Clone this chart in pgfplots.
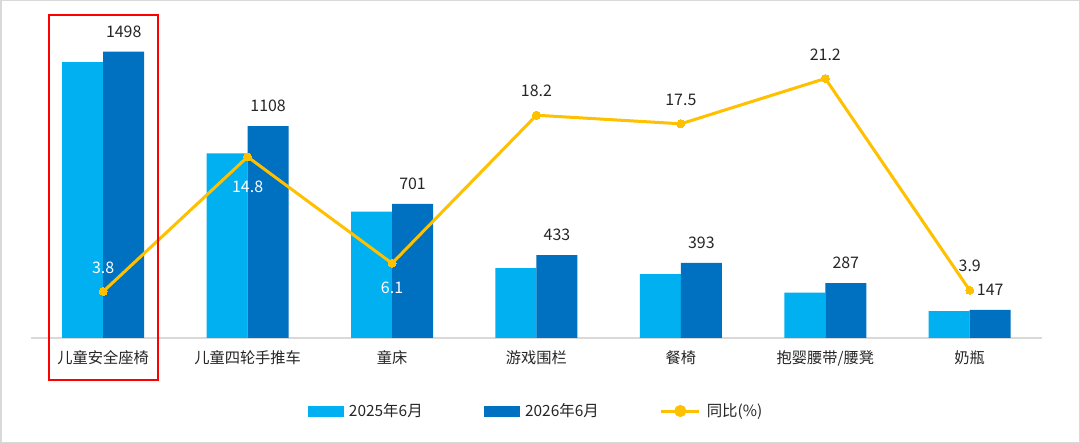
\documentclass[border=0pt]{standalone}
\usepackage{pgfplots}
\pgfplotsset{compat=1.18}
\usepackage{fontspec}
\setmainfont{Noto Sans CJK SC}
\definecolor{cA}{HTML}{00B0F0}
\definecolor{cB}{HTML}{0070C0}
\definecolor{cL}{HTML}{FFC000}
\definecolor{axg}{HTML}{D9D9D9}
\definecolor{txt}{HTML}{262626}
\tikzset{lbl/.style={font=\fontsize{16}{18}\selectfont, anchor=center}}
\begin{document}
\begin{tikzpicture}
\useasboundingbox (0,0) rectangle (1080bp,443bp);
\fill[white] (0,0) rectangle (1080bp,443bp);
\draw[axg, line width=1.5bp] (0.75bp,0.75bp) rectangle (1079.25bp,442.25bp);
\pgfplotsset{
  base/.style={scale only axis, width=1011bp, height=306bp,
    at={(31bp,105bp)}, anchor=south west, xmin=-0.5, xmax=6.5,
    /pgf/number format/assume math mode=true,
    /pgf/number format/1000 sep={},
    font=\fontsize{15}{18}\selectfont},
}
\begin{axis}[base, ymin=0, ymax=1600, ybar=0pt, bar width=41bp,
  axis x line=bottom, axis y line=none,
  x axis line style={axg, line width=1.5bp, -},
  xtick=data, major tick length=0pt,
  xticklabels={儿童安全座椅,儿童四轮手推车,童床,游戏围栏,餐椅,抱婴腰带/腰凳,奶瓶},
  xticklabel style={text=txt, font=\fontsize{15.3}{18}\selectfont, anchor=center, yshift=-20bp},
  ]
\addplot[fill=cA, draw=none] coordinates {(0,1443) (1,965) (2,661) (3,366) (4,334) (5,237) (6,141)};
\addplot[fill=cB, draw=none, nodes near coords,
  nodes near coords style={text=txt, lbl, yshift=20bp}]
  coordinates {(0,1498) (1,1108) (2,701) (3,433) (4,393) (5,287) (6,147)};
\end{axis}
\begin{axis}[base, ymin=0, ymax=25, hide axis,
  legend columns=3,
  legend style={at={(0.4995,-0.2386)}, anchor=center, draw=none, fill=none,
    font=\fontsize{15.5}{18}\selectfont, text=txt,
    /tikz/every odd column/.append style={column sep=4bp},
    /tikz/every even column/.append style={column sep=59bp}},
  ]
\addlegendimage{legend image code/.code={\fill[cA] (0bp,-5bp) rectangle (35bp,5bp);}}
\addlegendentry{2025年6月}
\addlegendimage{legend image code/.code={\fill[cB] (0bp,-5bp) rectangle (35bp,5bp);}}
\addlegendentry{2026年6月}
\addplot[cL, line width=3bp, mark=*, mark size=4bp, mark options={fill=cL, draw=cL, line width=0pt},
  legend image code/.code={\draw[cL, line width=3bp] (0bp,0bp) -- (38bp,0bp); \fill[cL] (19bp,0bp) circle (4.5bp);}]
  coordinates {(0,3.8) (1,14.8) (2,6.1) (3,18.2) (4,17.5) (5,21.2) (6,3.9)};
\addlegendentry{同比(\%)}
\addplot[draw=none, mark=none, forget plot, nodes near coords, point meta=y,
  nodes near coords style={text=white, lbl, yshift=24bp}] coordinates {(0,3.8)};
\addplot[draw=none, mark=none, forget plot, nodes near coords, point meta=y,
  nodes near coords style={text=white, lbl, yshift=-30bp}] coordinates {(1,14.8)};
\addplot[draw=none, mark=none, forget plot, nodes near coords, point meta=y,
  nodes near coords style={text=white, lbl, yshift=-24bp}] coordinates {(2,6.1)};
\addplot[draw=none, mark=none, forget plot, nodes near coords, point meta=y,
  nodes near coords style={text=txt, lbl, yshift=24bp}] coordinates {(3,18.2) (4,17.5) (5,21.2) (6,3.9)};
\end{axis}
\draw[red, line width=1.5bp] (49bp,63bp) rectangle (158bp,428bp);
\end{tikzpicture}
\end{document}
